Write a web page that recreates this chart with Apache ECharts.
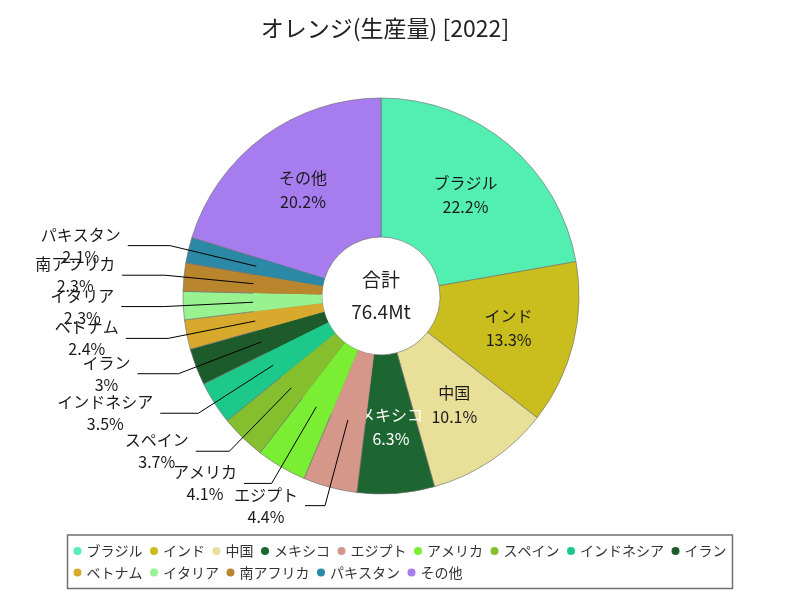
<!DOCTYPE html>
<html>
<head>
<meta charset="utf-8">
<script src="https://cdn.jsdelivr.net/npm/echarts@6/dist/echarts.min.js"></script>
<style>
  html, body { margin: 0; padding: 0; background: #fff; }
  #chart { width: 800px; height: 600px; }
</style>
</head>
<body>
<div id="chart"></div>
<script>
// ---- Data ----
const titleText = 'オレンジ(生産量) [2022]';
const categories = ['ブラジル', 'インド', '中国', 'メキシコ', 'エジプト', 'アメリカ', 'スペイン', 'インドネシア', 'イラン', 'ベトナム', 'イタリア', '南アフリカ', 'パキスタン', 'その他'];
const shares = [22.2, 13.3, 10.1, 6.3, 4.4, 4.1, 3.7, 3.5, 3, 2.4, 2.3, 2.3, 2.1, 20.2];
const totalLabel = '合計';
const totalValue = 76.4;
const totalUnit = 'Mt';
const insideNames = ['ブラジル', 'インド', '中国', 'メキシコ', 'その他'];

// ---- Styles ----
const colors = ['#53EEB2', '#C9BE1D', '#E8DF99', '#1D6631', '#D4978A', '#7AEE33', '#86BF2D', '#1CC98A', '#1D5B2B', '#D7A92D', '#98F28F', '#B9852D', '#2B89A5', '#A67CEE'];
const FONT = '"Noto Sans CJK JP", "Noto Sans", sans-serif';
const CX = 381, CY = 296, R0 = 59, R1 = 198, RMID = 128;

const chart = echarts.init(document.getElementById('chart'), null, { renderer: 'canvas' });

const dataA = categories.map((name, i) => {
  const inside = insideNames.indexOf(name) >= 0;
  return {
    name: name,
    value: shares[i],
    itemStyle: { color: colors[i] },
    label: inside
      ? { show: true, color: name === 'メキシコ' ? '#ffffff' : '#1a1a1a' }
      : { show: false }
  };
});

const dataB = categories.map((name, i) => {
  const inside = insideNames.indexOf(name) >= 0;
  return {
    name: name,
    value: shares[i],
    itemStyle: { color: inside ? 'rgba(0,0,0,0)' : colors[i] },
    label: { show: !inside },
    labelLine: { show: !inside }
  };
});

const option = {
  backgroundColor: '#ffffff',
  animation: false,
  color: colors,
  title: {
    text: titleText,
    left: 380,
    top: 12,
    textAlign: 'center',
    textStyle: { fontFamily: FONT, fontSize: 23, fontWeight: 'normal', color: '#222' }
  },
  legend: {
    data: categories,
    left: 'center',
    top: 535,
    width: 700,
    icon: 'circle',
    itemWidth: 8,
    itemHeight: 8,
    itemGap: 7.5,
    padding: [9, 6],
    borderColor: '#707070',
    borderWidth: 1.5,
    itemStyle: { borderWidth: 0 },
    textStyle: { fontFamily: FONT, fontSize: 14, color: '#333' }
  },
  graphic: [{
    type: 'text',
    x: CX,
    y: CY,
    z: 10,
    style: {
      text: totalLabel + '\n' + totalValue + totalUnit,
      fill: '#222',
      font: '19px ' + FONT,
      lineHeight: 32,
      align: 'center',
      verticalAlign: 'middle'
    }
  }],
  series: [
    {
      type: 'pie',
      z: 2,
      center: [CX, CY],
      radius: [R0, R1],
      startAngle: 90,
      clockwise: true,
      avoidLabelOverlap: false,
      emphasis: { disabled: true },
      silent: true,
      itemStyle: { borderColor: 'rgba(110,110,110,0.8)', borderWidth: 0.8 },
      label: {
        position: 'inside',
        formatter: '{n|{b}}\n{n|{c}%}',
        fontFamily: FONT,
        fontSize: 16,
        rich: { n: { align: 'center', fontFamily: FONT, fontSize: 16, lineHeight: 24 } }
      },
      labelLine: { show: false },
      data: dataA
    },
    {
      type: 'pie',
      z: 3,
      center: [CX, CY],
      radius: [R0, RMID],
      startAngle: 90,
      clockwise: true,
      avoidLabelOverlap: false,
      emphasis: { disabled: true },
      silent: true,
      legendHoverLink: false,
      itemStyle: { borderWidth: 0 },
      label: {
        position: 'outside',
        formatter: '{n|{b}}\n{n|{c}%}',
        color: '#1a1a1a',
        fontFamily: FONT,
        fontSize: 16,
        rich: { n: { align: 'center', fontFamily: FONT, fontSize: 16, lineHeight: 22 } }
      },
      labelLine: {
        show: true,
        length: R1 + 19 - RMID,
        length2: 40,
        lineStyle: { color: '#000', width: 1 }
      },
      labelLayout: function (params) {
        const pts = params.labelLinePoints;
        if (!pts || pts.length < 3) return {};
        const p0 = pts[0], p1 = pts[1];
        const dx = p1[0] - p0[0], dy = p1[1] - p0[1];
        const len = Math.sqrt(dx * dx + dy * dy) || 1;
        const ux = Math.abs(dx / len);
        const dir = dx < 0 ? -1 : 1;
        const L = 12 + 31 * ux;
        const p2 = [p1[0] + dir * L, p1[1]];
        return {
          x: p2[0] + dir * 7,
          y: p2[1],
          align: dir < 0 ? 'right' : 'left',
          verticalAlign: 'middle',
          labelLinePoints: [p0, p1, p2]
        };
      },
      data: dataB
    }
  ]
};

chart.setOption(option);
</script>
</body>
</html>
